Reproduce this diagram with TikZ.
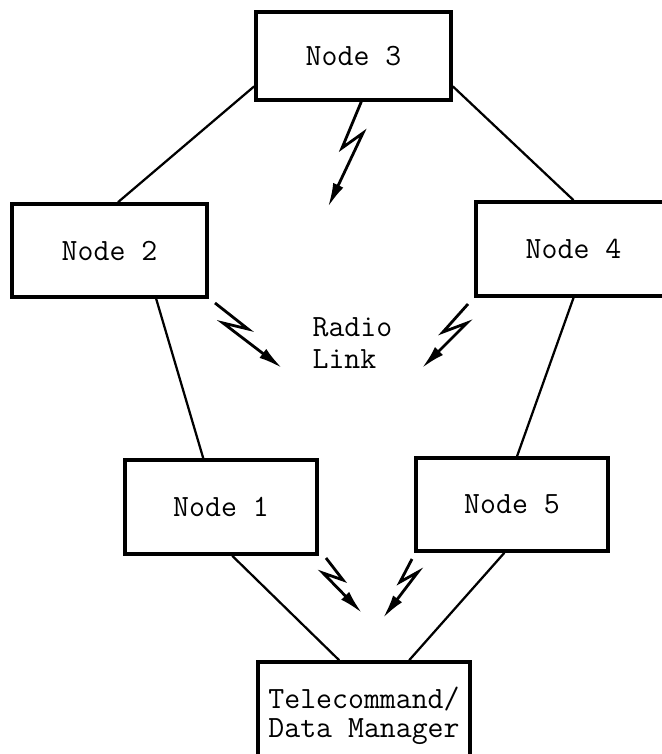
\documentclass[tikz,border=0pt]{standalone}
\usepackage{tikz}
\usetikzlibrary{calc}
\usetikzlibrary{arrows.meta}

\begin{document}
\begin{tikzpicture}
        % Define styles for shapes
        \tikzstyle{nodebox} = [draw, line width=2.6pt, minimum width=4.875cm, minimum height=2.3cm, font=\fontsize{22}{21}\selectfont\ttfamily]
        \tikzstyle{link} = [line width=1.6pt]
        \tikzstyle{radio} = [line width=2pt, -{Latex[length=0.6cm, width=0.28cm]}]
        \useasboundingbox (0,0) rectangle (16.55,-18.85);

        % Draw shapes
        \node[nodebox, minimum height=2.2cm] (node3) at (8.8375, -1.40) {Node 3};
        \node[nodebox, minimum height=2.325cm] (node2) at (2.7375, -6.2625) {Node 2};
        \node[nodebox, minimum height=2.35cm] (node4) at (14.3375, -6.225) {Node 4};
        \node[nodebox, minimum width=4.8cm, minimum height=2.35cm] (node1) at (5.525, -12.675) {Node 1};
        \node[nodebox, minimum width=4.8cm, minimum height=2.325cm] (node5) at (12.8, -12.6125) {Node 5};
        \node[nodebox, minimum width=5.3cm, minimum height=2.7cm, align=left] (tdm) at (9.1, -17.9) {
                Telecommand/\\
                Data Manager
        };
        \node[font=\fontsize{22}{23.4}\selectfont\ttfamily, align=left] (radiolink) at (8.81, -8.575) {
                Radio\\
                Link
        };

        % Draw lines
        \draw[link] (node3.197) -- (node2.80);
        \draw[link] (node3.343) -- (node4.north);
        \draw[link] (node2.314) -- (node1.110);
        \draw[link] (node4.south) -- (node5.84);
        \draw[link] (node1.283) -- (tdm.114);
        \draw[link] (node5.261) -- (tdm.51);

        % Draw arrows
        \draw[radio] (9.05, -2.5) -- (8.55, -3.70) -- (9.075, -3.325) -- (8.20, -5.175);
        \draw[radio] (5.375, -7.575) -- (6.20, -8.225) -- (5.575, -8.075) -- (7.05, -9.20);
        \draw[radio] (11.70, -7.60) -- (11.075, -8.30) -- (11.675, -8.075) -- (10.55, -9.20);
        \draw[radio] (8.15, -13.95) -- (8.575, -14.50) -- (8.075, -14.325) -- (9.05, -15.325);
        \draw[radio] (10.30, -13.975) -- (10.00, -14.55) -- (10.45, -14.30) -- (9.575, -15.45);
\end{tikzpicture}
\end{document}
